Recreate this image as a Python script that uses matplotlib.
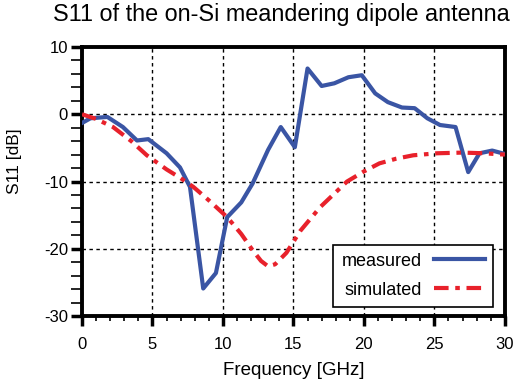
import numpy as np
import matplotlib.pyplot as plt
from matplotlib.ticker import MultipleLocator

plt.rcParams['font.family'] = ['Liberation Sans', 'DejaVu Sans']
plt.rcParams['axes.unicode_minus'] = False

freq_med = [0, 0.6, 1.8, 2.9, 3.9, 4.7, 6.0, 6.95, 7.66, 8.6, 9.5, 10.3, 11.3, 12.1,
            13.2, 14.1, 15.1, 16.0, 17.0, 17.9, 18.9, 19.85, 20.8, 21.7, 22.7, 23.6,
            24.5, 25.4, 26.5, 27.4, 28.2, 29.1, 30]
s11_med = [-1.3, -0.6, -0.4, -1.9, -3.9, -3.7, -5.8, -7.9, -10.8, -25.9, -23.6, -15.3,
           -13.1, -10.3, -5.3, -1.9, -4.9, 6.8, 4.2, 4.6, 5.5, 5.8, 3.1, 1.8, 1.0, 0.9,
           -0.6, -1.6, -1.9, -8.6, -5.8, -5.4, -5.9]

# S11 simulado
freq_sim = [0, 1, 2.2, 3.5, 4.6, 6.0, 7.0, 7.9, 9.0, 10.3, 11.3, 12.1, 12.7, 13.2,
            13.7, 14.5, 15.5, 16.9, 18.8, 20.0, 21.1, 22.3, 23.5, 25.2, 27.0, 28.5, 30]
s11_sim = [0, -0.7, -1.9, -4.0, -6.1, -8.2, -9.5, -10.8, -12.8, -15.3, -17.8, -20.2,
           -21.8, -22.6, -22.3, -20.6, -17.3, -13.8, -10.0, -8.5, -7.3, -6.6, -6.1,
           -5.8, -5.7, -5.8, -6.0]

fig = plt.figure(figsize=(5.24, 3.85), dpi=100)
ax = fig.add_axes([0.1565, 0.179, 0.807, 0.699])

ax.plot(freq_med, s11_med, color='#3a55a4', lw=3.0, label='measured', zorder=3)
ax.plot(freq_sim, s11_sim, color='#e8212b', lw=3.0, dashes=(3.5, 1.6, 1.1, 1.6),
        label='simulated', zorder=3)

ax.set_xlim(0, 30)
ax.set_ylim(-30, 10)
ax.xaxis.set_major_locator(MultipleLocator(5))
ax.xaxis.set_minor_locator(MultipleLocator(1))
ax.yaxis.set_major_locator(MultipleLocator(10))
ax.yaxis.set_minor_locator(MultipleLocator(2))
ax.tick_params(which='both', direction='out', top=False, right=False)
ax.tick_params(axis='x', which='major', length=7, width=2.5, labelsize=12, pad=8)
ax.tick_params(axis='x', which='minor', length=3.5, width=1.2)
ax.tick_params(axis='y', which='major', length=8, width=2.5, labelsize=12, pad=2)
ax.tick_params(axis='y', which='minor', length=8, width=1.2)
for s in ax.spines.values():
    s.set_linewidth(2.8)

ax.grid(True, which='major', color='black', ls=(0, (2.5, 2.5)), lw=1)

ax.set_xlabel('Frequency [GHz]', fontsize=13.5, labelpad=7)
ax.set_ylabel('S11 [dB]', fontsize=12.5)
ax.yaxis.set_label_coords(-0.142, 0.575)
fig.text(0.537, 0.963, 'S11 of the on-Si meandering dipole antenna', fontsize=16.8,
         ha='center', va='center')

leg = ax.legend(loc='lower right', bbox_to_anchor=(0.9716, 0.035), borderaxespad=0,
                markerfirst=False, fontsize=13, fancybox=False, framealpha=1,
                edgecolor='black', handlelength=2.8, handletextpad=0.7,
                borderpad=0.45, labelspacing=0.65)
leg.get_frame().set_linewidth(1.2)

fig.savefig('out.png', dpi=100)
